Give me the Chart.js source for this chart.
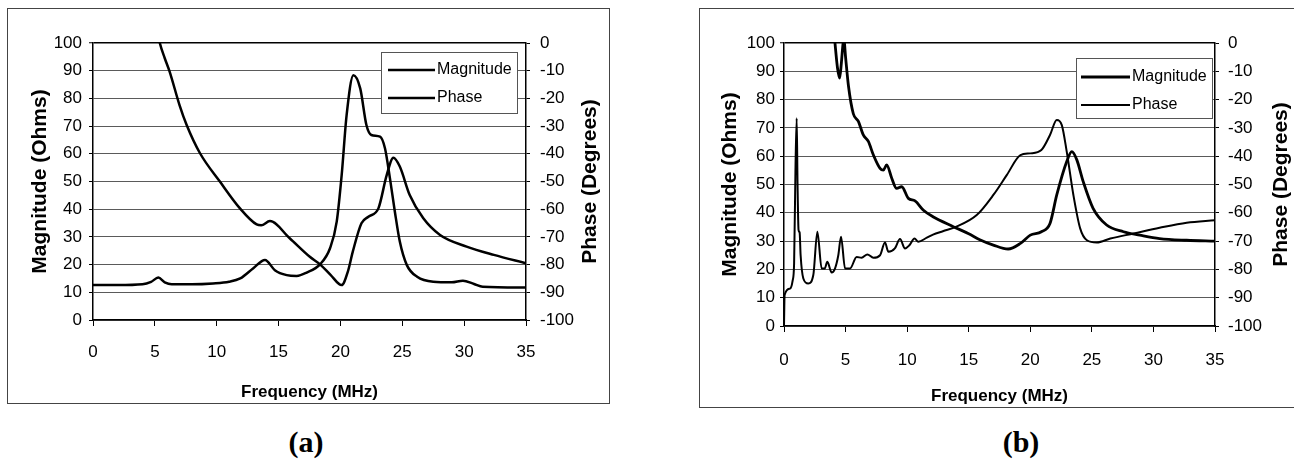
<!DOCTYPE html>
<html><head><meta charset="utf-8">
<script src="https://cdn.jsdelivr.net/npm/chart.js@4.4.1/dist/chart.umd.min.js"></script>
<style>
html,body{margin:0;padding:0;background:#fff;width:1294px;height:460px;overflow:hidden;position:relative;}
.box{position:absolute;border:1px solid #444;box-sizing:border-box;}
canvas{position:absolute;}
.cap{position:absolute;font-family:"Liberation Serif","Times New Roman",serif;font-weight:bold;font-size:30px;line-height:30px;transform:translateX(-50%);color:#000;}
</style></head><body>
<div class="box" style="left:7px;top:8px;width:603px;height:396px"></div>
<div class="box" style="left:699px;top:8px;width:600px;height:400px"></div>
<canvas id="ca" width="602" height="395" style="left:7px;top:8px"></canvas>
<canvas id="cb" width="595" height="399" style="left:699px;top:8px"></canvas>
<div class="cap" style="left:306px;top:427px">(a)</div>
<div class="cap" style="left:1021px;top:427px">(b)</div>
<script>
const FONT = '"Liberation Sans", Arial, sans-serif';

// tick labels
const freqTicks = [0, 5, 10, 15, 20, 25, 30, 35];
const magTicks = [0, 10, 20, 30, 40, 50, 60, 70, 80, 90, 100];
const phaseTicks = [0, -10, -20, -30, -40, -50, -60, -70, -80, -90, -100];

// series labels
const seriesNames = ['Magnitude', 'Phase'];

// (a) magnitude (Ohms)
const magFreqA = [4.8, 5.4, 5.8, 6.2, 7.0, 7.57, 8.65, 10.27, 11.88, 13.23, 13.6, 14.3, 15.9, 17.5, 18.35, 19.2, 20.1, 20.6, 21.0, 21.7, 22.26, 23.07, 23.74, 24.28, 24.8, 25.6, 26.7, 28.05, 30.2, 32.4, 35];
const magValA  = [113, 100, 94.5, 89.6, 77.5, 70.4, 60.2, 49.9, 40.3, 34.5, 34.2, 35.7, 29.5, 22.9, 20.1, 16.3, 12.6, 17.5, 24.7, 34.9, 37.3, 40.3, 52.3, 58.6, 55.4, 45.1, 36.7, 30.7, 26.5, 23.5, 20.5];
// (a) phase (Degrees)
const phaseFreqA = [0, 2, 4, 4.7, 5.28, 5.8, 6.36, 8, 9.7, 11, 11.9, 12.96, 13.9, 14.7, 15.66, 16.46, 17.27, 18.35, 19.16, 19.7, 20.1, 20.5, 21.05, 21.6, 22.1, 22.5, 23.2, 23.6, 24.0, 24.4, 24.8, 25.36, 26.2, 27.5, 29.0, 29.9, 30.8, 31.5, 35];
const phaseValA  = [-87.4, -87.4, -87.1, -86.2, -84.7, -86.4, -87.1, -87.1, -86.8, -86.2, -85.0, -81.3, -78.3, -82.0, -83.8, -84.1, -82.9, -79.9, -74.1, -64.5, -47.7, -26, -11.6, -16.4, -29.6, -33.2, -33.8, -38, -48.8, -60.9, -71.7, -80.1, -84.4, -86.2, -86.4, -85.8, -87.0, -88.0, -88.3];

// (b) magnitude (Ohms)
const magFreqB = [3.9, 4.14, 4.35, 4.52, 4.66, 4.8, 4.87, 5.0, 5.23, 5.63, 6.04, 6.44, 6.85, 7.26, 7.8, 8.07, 8.34, 8.75, 9.15, 9.56, 10.1, 10.64, 11.3, 12.1, 13.75, 15.0, 15.9, 17.0, 18.2, 19.2, 20.0, 20.9, 21.6, 22.15, 22.96, 23.37, 23.78, 24.3, 25.1, 26.2, 27.57, 28.9, 30.5, 32.7, 35];
const magValB  = [112, 100, 91, 87.6, 93, 100, 101, 95, 85, 75, 72.3, 67.5, 65.2, 60.4, 55.7, 55.1, 56.9, 52.2, 48.6, 49.2, 45.1, 44.2, 41, 38.6, 35.1, 32.6, 30.5, 28.6, 27.2, 29.2, 32.1, 33.3, 36.2, 46.3, 58.1, 61.6, 58.7, 51, 41.6, 35.7, 33.3, 32.1, 30.9, 30.3, 30];
// (b) phase (Degrees)
const phaseFreqB = [0, 0.05, 0.49, 0.7, 0.82, 0.93, 1.03, 1.1, 1.18, 1.27, 1.35, 1.57, 1.97, 2.38, 2.71, 3.06, 3.3, 3.52, 3.87, 4.14, 4.41, 4.63, 4.96, 5.36, 5.9, 6.3, 6.77, 7.26, 7.8, 8.2, 8.48, 9.0, 9.42, 9.83, 10.2, 10.6, 10.9, 11.6, 12.1, 12.9, 14.0, 15.65, 17.0, 18.1, 19.2, 20.0, 20.9, 21.6, 22.15, 22.56, 22.96, 23.5, 24.05, 24.6, 25.4, 26.5, 28.4, 30.5, 32.7, 35];
const phaseValB  = [-100, -89, -86.8, -84, -78, -45, -26.6, -50, -66, -67, -75, -83.2, -85, -82, -66.7, -79.7, -79.7, -77.3, -81.1, -79.7, -75, -68.5, -79.7, -79.7, -75.6, -75.9, -74.7, -75.9, -75, -70.5, -73.8, -72.6, -69.3, -72.6, -71.4, -69.1, -70.2, -68.8, -67.7, -66.5, -64.9, -60.8, -53.7, -46.6, -39.6, -39, -37.8, -32.5, -27.2, -29, -38.4, -53.7, -65.5, -69.7, -70.5, -69.1, -67.3, -65.3, -63.5, -62.6];

const pts = (xs, ys) => xs.map((x, i) => ({x: x, y: ys[i]}));

const insideLegend = {
  id: 'insideLegend',
  afterDatasetsDraw(chart, args, o) {
    const ctx = chart.ctx, ca = chart.chartArea;
    const x0 = ca.right - o.dr - o.w, y0 = ca.top + o.dt;
    ctx.save();
    ctx.fillStyle = '#fff';
    ctx.fillRect(x0, y0, o.w, o.h);
    ctx.strokeStyle = '#555';
    ctx.lineWidth = 1;
    ctx.strokeRect(x0 + 0.5, y0 + 0.5, o.w, o.h);
    chart.data.datasets.forEach((ds, i) => {
      const yy = y0 + o.row0 + i * o.rowH;
      ctx.strokeStyle = ds.borderColor;
      ctx.lineWidth = ds.borderWidth;
      ctx.beginPath();
      ctx.moveTo(x0 + o.lx0, yy);
      ctx.lineTo(x0 + o.lx1, yy);
      ctx.stroke();
      ctx.fillStyle = '#000';
      ctx.font = '16px ' + FONT;
      ctx.textBaseline = 'middle';
      ctx.textAlign = 'left';
      ctx.fillText(ds.label, x0 + o.tx, yy);
    });
    ctx.restore();
  }
};

const rightTitle = {
  id: 'rightTitle',
  afterDraw(chart, args, o) {
    const ctx = chart.ctx, ca = chart.chartArea;
    ctx.save();
    ctx.translate(ca.right + o.off, (ca.top + ca.bottom) / 2);
    ctx.rotate(-Math.PI / 2);
    ctx.fillStyle = '#000';
    ctx.font = 'bold 21px ' + FONT;
    ctx.textAlign = 'center';
    ctx.textBaseline = 'middle';
    ctx.fillText(o.text, 0, 0);
    ctx.restore();
  }
};

function makeChart(id, magData, phaseData, L) {
  return new Chart(document.getElementById(id), {
    type: 'scatter',
    data: {
      datasets: [
        {label: seriesNames[0], data: magData, yAxisID: 'y', showLine: true, borderColor: '#000', borderWidth: L.magW, pointRadius: 0, cubicInterpolationMode: 'monotone', clip: 0},
        {label: seriesNames[1], data: phaseData, yAxisID: 'y2', showLine: true, borderColor: '#000', borderWidth: L.phW, pointRadius: 0, cubicInterpolationMode: 'monotone', clip: 0}
      ]
    },
    options: {
      responsive: false,
      animation: false,
      events: [],
      layout: {padding: {top: L.top, left: 0, right: 0, bottom: 0}},
      plugins: {
        legend: {display: false},
        tooltip: {enabled: false},
        insideLegend: L.legend,
        rightTitle: {off: L.rtOff, text: 'Phase (Degrees)'}
      },
      scales: {
        x: {
          type: 'linear', min: 0, max: 35,
          afterBuildTicks: s => { s.ticks = freqTicks.map(v => ({value: v})); },
          afterFit: s => { s.height = L.xH; },
          grid: {drawOnChartArea: false, drawTicks: true, tickLength: 6, tickColor: '#000', tickWidth: 1},
          border: {color: '#000', width: 1.5},
          ticks: {color: '#000', font: {family: FONT, size: 17}, padding: L.xPad, maxRotation: 0, autoSkip: false},
          title: {display: true, text: 'Frequency (MHz)', color: '#000', font: {family: FONT, size: 17, weight: 'bold'}, padding: {top: L.xTitlePad, bottom: 0}}
        },
        y: {
          position: 'left', min: 0, max: 100,
          afterBuildTicks: s => { s.ticks = magTicks.map(v => ({value: v})); },
          afterFit: s => { s.width = L.yW; },
          grid: {
            color: c => (c.tick && c.tick.value === 100) ? '#000' : '#5a5a5a',
            lineWidth: c => (c.tick && c.tick.value === 100) ? 1.5 : 1,
            drawTicks: true, tickLength: 4, tickColor: '#000', tickWidth: 1
          },
          border: {color: '#000', width: 1.5},
          ticks: {color: '#000', font: {family: FONT, size: 17}, padding: L.yPad},
          title: {display: true, text: 'Magnitude (Ohms)', color: '#000', font: {family: FONT, size: 21, weight: 'bold'}, padding: {top: L.yTitlePad, bottom: 0}}
        },
        y2: {
          position: 'right', min: -100, max: 0,
          afterBuildTicks: s => { s.ticks = phaseTicks.slice().reverse().map(v => ({value: v})); },
          afterFit: s => { s.width = L.y2W; },
          grid: {drawOnChartArea: false, drawTicks: true, tickLength: 4, tickColor: '#000', tickWidth: 1},
          border: {color: '#000', width: 1.5},
          ticks: {color: '#000', font: {family: FONT, size: 17}, padding: L.y2Pad}
        }
      }
    },
    plugins: [insideLegend, rightTitle]
  });
}

makeChart('ca', pts(magFreqA, magValA), pts(phaseFreqA, phaseValA), {
  magW: 2.5, phW: 2.5, top: 35, xH: 83, yW: 86, y2W: 83,
  xPad: 16, xTitlePad: 6, yPad: 7, yTitlePad: 21, y2Pad: 10, rtOff: 64,
  legend: {dr: 9, dt: 9, w: 136, h: 61, lx0: 7, lx1: 54, tx: 56, row0: 18, rowH: 28}
});
makeChart('cb', pts(magFreqB, magValB), pts(phaseFreqB, phaseValB), {
  magW: 2.8, phW: 2, top: 35, xH: 81, yW: 85, y2W: 79,
  xPad: 18, xTitlePad: 5, yPad: 5, yTitlePad: 19, y2Pad: 9, rtOff: 66,
  legend: {dr: 3, dt: 15, w: 136, h: 60, lx0: 5, lx1: 54, tx: 56, row0: 19, rowH: 28}
});
</script>
</body></html>
